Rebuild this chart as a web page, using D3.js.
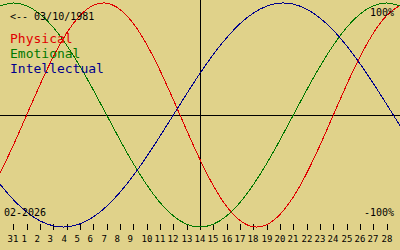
<!DOCTYPE html>
<html lang="en">
<head>
<meta charset="UTF-8">
<title>Biorhythm</title>
<script src="https://d3js.org/d3.v7.min.js"></script>
<style>
  body { margin: 0; background: #e0d28a; }
  svg { display: block; }
  text { font-family: "DejaVu Sans Mono", monospace; }
</style>
</head>
<body>
<div id="chart"></div>
<script>

// day slots 0..30 (Jan 30 .. Mar 1), today = slot 15 (14 Feb)
var dayLabels = ["31","1","2","3","4","5","6","7","8","9","10","11","12","13","14",
                 "15","16","17","18","19","20","21","22","23","24","25","26","27","28"];

var physical = [-0.520,-0.270,0.000,0.270,0.520,0.731,0.888,0.979,0.998,0.942,0.817,
                0.631,0.398,0.136,-0.136,-0.398,-0.631,-0.817,-0.942,-0.998,-0.979,
                -0.888,-0.731,-0.520,-0.270,0.000,0.270,0.520,0.731,0.888,0.979];

var emotional = [0.975,1.000,0.975,0.901,0.782,0.623,0.434,0.223,0.000,-0.223,-0.434,
                 -0.623,-0.782,-0.901,-0.975,-1.000,-0.975,-0.901,-0.782,-0.623,-0.434,
                 -0.223,0.000,0.223,0.434,0.623,0.782,0.901,0.975,1.000,0.975];

var intellectual = [-0.618,-0.756,-0.866,-0.945,-0.990,-0.999,-0.972,-0.910,-0.815,-0.690,
                    -0.541,-0.372,-0.189,0.000,0.189,0.372,0.541,0.690,0.815,0.910,0.972,
                    0.999,0.990,0.945,0.866,0.756,0.618,0.458,0.282,0.095,-0.095];

var today = 15;

var width = 400, height = 250;

var svg = d3.select("#chart")
  .append("svg")
    .attr("width", width)
    .attr("height", height);

svg.append("rect")
  .attr("width", width)
  .attr("height", height)
  .attr("fill", "#e0d28a");

var x = d3.scaleLinear().domain([0, 30]).range([0, width]);
var y = d3.scaleLinear().domain([-1, 1]).range([227, 3]);

// zero line and today line
svg.append("line")
  .attr("x1", 0).attr("x2", width)
  .attr("y1", Math.round(y(0)) + 0.5).attr("y2", Math.round(y(0)) + 0.5)
  .attr("stroke", "#000");
svg.append("line")
  .attr("x1", Math.round(x(today)) + 0.5).attr("x2", Math.round(x(today)) + 0.5)
  .attr("y1", 0).attr("y2", 230)
  .attr("stroke", "#000");

// day ticks
var days = svg.append("g");
dayLabels.forEach(function(lbl, k) {
  var px = Math.round(x(k + 1)) + 0.5;
  days.append("line")
    .attr("x1", px).attr("x2", px)
    .attr("y1", 224).attr("y2", 230)
    .attr("stroke", "#000");
  days.append("text")
    .attr("x", px - 6)
    .attr("y", 242)
    .attr("font-size", "9px")
    .attr("fill", "#000")
    .text(lbl);
});

// curves
var line = d3.line()
  .curve(d3.curveNatural)
  .x(function(d, i) { return x(i); })
  .y(function(d) { return y(d); });

[[physical, "#e00000"], [emotional, "#007800"], [intellectual, "#00008c"]].forEach(function(s) {
  svg.append("path")
    .datum(s[0])
    .attr("fill", "none")
    .attr("stroke", s[1])
    .attr("stroke-width", 1)
    .attr("shape-rendering", "crispEdges")
    .attr("d", line);
});

// texts
svg.append("text")
  .attr("x", 10).attr("y", 20)
  .attr("font-size", "10px").attr("fill", "#000")
  .text("<-- 03/10/1981");

var legend = [["Physical", "#e00000"], ["Emotional", "#007800"], ["Intellectual", "#00008c"]];
legend.forEach(function(l, i) {
  svg.append("text")
    .attr("x", 10).attr("y", 43 + i * 15)
    .attr("font-size", "13px").attr("fill", l[1])
    .text(l[0]);
});

svg.append("text")
  .attr("x", 394).attr("y", 16)
  .attr("text-anchor", "end")
  .attr("font-size", "10px").attr("fill", "#000")
  .text("100%");

svg.append("text")
  .attr("x", 394).attr("y", 216)
  .attr("text-anchor", "end")
  .attr("font-size", "10px").attr("fill", "#000")
  .text("-100%");

svg.append("text")
  .attr("x", 4).attr("y", 216)
  .attr("font-size", "10px").attr("fill", "#000")
  .text("02-2026");

</script>
</body>
</html>
